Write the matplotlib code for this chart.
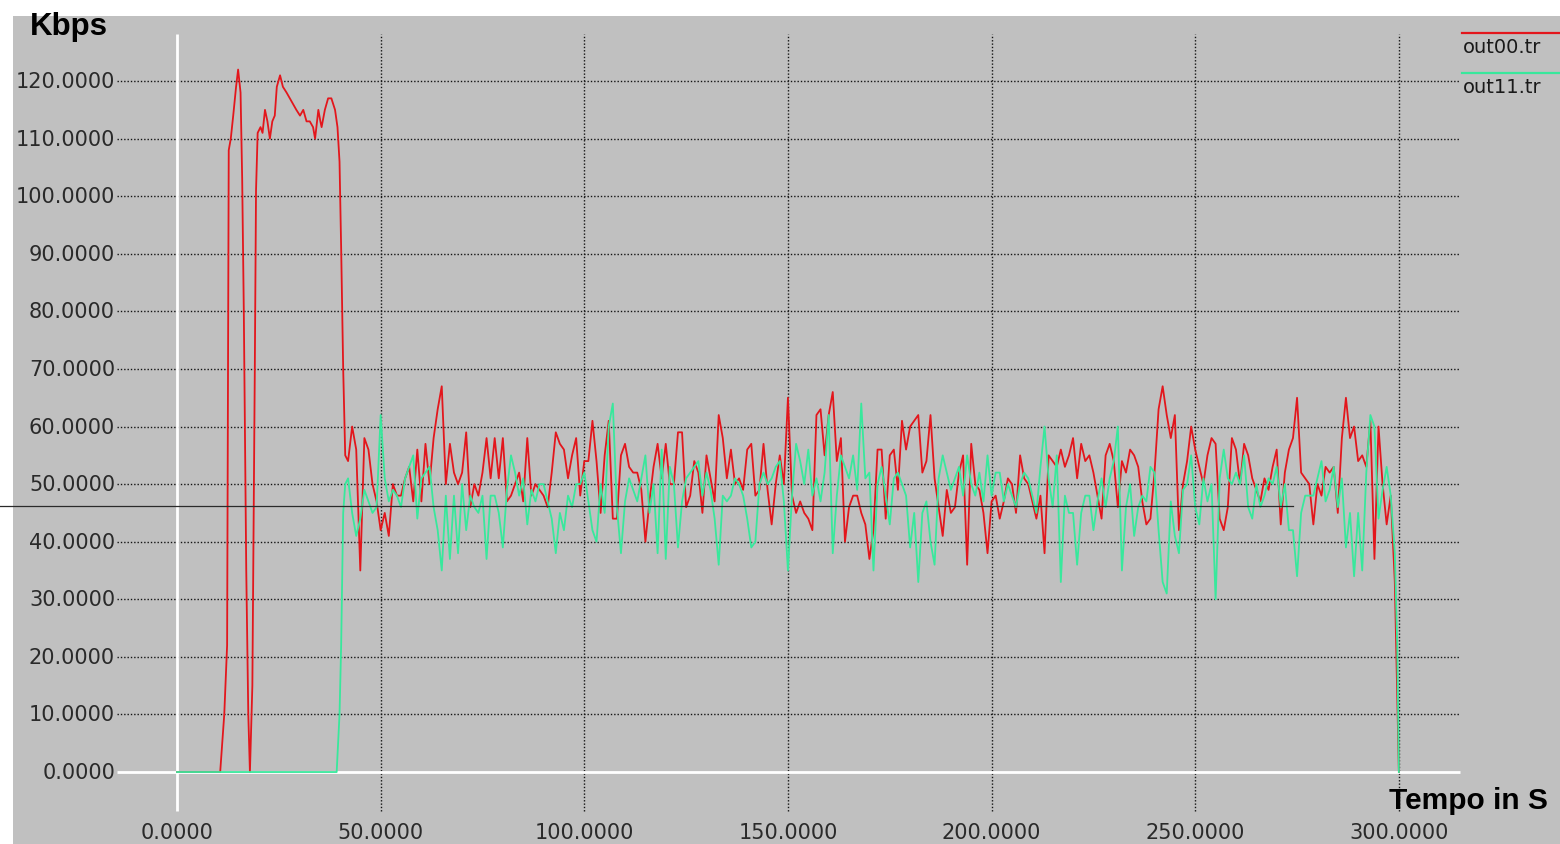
"""
Ricostruzione del grafico xgraph: throughput (Kbps) di out00.tr e out11.tr nel tempo.

Genera:
    out.png
"""

import numpy as np
from matplotlib import pyplot as plt
from matplotlib import font_manager

# ---- dati -------------------------------------------------------------------
# tratto iniziale di out00.tr (campionamento irregolare)
RED_T_START = [0, 10.6, 11.6, 12.3, 12.7, 13.2, 13.8, 14.5, 15.0, 15.6, 16.0, 16.4,
               17.0, 17.5, 17.9, 18.5, 19.1, 19.4, 19.8, 20.5, 21.0, 21.6, 22.2, 22.8,
               23.4, 24.0, 24.5, 25.3, 26.0, 26.9, 27.7, 28.5, 29.3, 30.2, 31.0, 31.8,
               32.6, 33.4, 33.9, 34.7, 35.2, 35.5, 36.3, 37.1, 37.9, 38.8, 39.4, 39.9,
               40.3, 40.8, 41.3]
RED_V_START = [0, 0, 10, 22, 108, 110, 114, 119, 122, 118, 103, 80,
               35, 10, 0, 15, 70, 101, 111, 112, 111, 115, 113, 110,
               113, 114, 119, 121, 119, 118, 117, 116, 115, 114, 115, 113,
               113, 112, 110, 115, 113, 112, 115, 117, 117, 115, 112, 106,
               91, 70, 55]

# tratto iniziale di out11.tr
GREEN_T_START = [0, 39.2, 39.9, 40.3, 40.8, 41.3]
GREEN_V_START = [0, 0, 10, 22, 45, 50]

# valori ogni secondo da t = 42 a t = 299
RED_V = [
    54, 60, 56, 35, 58, 56, 50, 47, 42, 45, 41, 50, 48, 48, 51, 53, 47, 56, 47, 57,
    50, 58, 63, 67, 50, 57, 52, 50, 52, 59, 46, 50, 48, 52, 58, 51, 58, 51, 58, 47,
    48, 50, 52, 47, 58, 48, 50, 49, 48, 46, 52, 59, 57, 56, 51, 55, 58, 48, 54, 54,
    61, 54, 45, 55, 61, 44, 44, 55, 57, 53, 52, 52, 49, 40, 47, 53, 57, 51, 57, 50,
    50, 59, 59, 46, 48, 54, 52, 45, 55, 51, 47, 62, 58, 51, 56, 50, 51, 49, 56, 57,
    48, 49, 57, 49, 43, 50, 55, 50, 65, 48, 45, 47, 45, 44, 42, 62, 63, 55, 62, 66,
    54, 58, 40, 46, 48, 48, 45, 43, 37, 42, 56, 56, 44, 55, 56, 49, 61, 56, 60, 61,
    62, 52, 54, 62, 51, 46, 41, 49, 45, 46, 52, 55, 36, 57, 50, 49, 45, 38, 47, 48,
    44, 47, 51, 50, 45, 55, 51, 50, 47, 44, 48, 38, 55, 54, 53, 56, 53, 55, 58, 51,
    57, 54, 55, 52, 48, 44, 55, 57, 54, 46, 54, 52, 56, 55, 53, 47, 43, 44, 52, 63,
    67, 62, 58, 62, 42, 50, 54, 60, 56, 53, 50, 55, 58, 57, 44, 42, 46, 58, 56, 50,
    57, 55, 51, 49, 47, 51, 49, 53, 56, 43, 52, 56, 58, 65, 52, 51, 50, 43, 50, 48,
    53, 52, 53, 45, 58, 65, 58, 60, 54, 55, 53, 61, 37, 60, 50, 43, 48, 33,
]
GREEN_V = [
    51, 45, 41, 44, 49, 47, 45, 46, 62, 51, 47, 49, 48, 46, 51, 53, 55, 44, 51, 52,
    53, 46, 42, 35, 48, 37, 48, 38, 50, 42, 48, 46, 45, 48, 37, 48, 48, 45, 39, 49,
    55, 52, 48, 51, 43, 49, 47, 50, 50, 47, 44, 38, 45, 42, 48, 46, 50, 50, 52, 47,
    42, 40, 50, 45, 60, 64, 46, 38, 47, 51, 49, 47, 51, 55, 45, 50, 38, 56, 37, 53,
    50, 39, 47, 51, 52, 53, 54, 48, 52, 49, 44, 36, 48, 47, 48, 51, 50, 48, 44, 39,
    40, 50, 52, 50, 51, 53, 54, 47, 35, 48, 57, 54, 50, 56, 48, 51, 47, 52, 62, 38,
    48, 55, 53, 51, 55, 49, 64, 51, 52, 35, 50, 53, 48, 43, 51, 52, 50, 48, 39, 45,
    33, 45, 47, 40, 36, 51, 55, 52, 49, 51, 53, 48, 55, 50, 48, 52, 47, 55, 48, 52,
    52, 47, 50, 48, 46, 50, 52, 51, 48, 45, 53, 60, 51, 46, 55, 33, 48, 45, 45, 36,
    45, 48, 48, 42, 47, 51, 46, 51, 54, 60, 35, 46, 50, 41, 46, 48, 47, 53, 52, 42,
    33, 31, 47, 41, 38, 49, 50, 55, 46, 43, 51, 47, 50, 30, 51, 56, 51, 50, 52, 50,
    55, 46, 44, 50, 46, 48, 51, 50, 53, 46, 50, 42, 42, 34, 45, 48, 48, 48, 51, 54,
    47, 49, 53, 46, 51, 39, 45, 34, 45, 35, 52, 62, 60, 44, 49, 53, 48, 38,
]
T_START, T_END = 42, 299

# discesa finale a zero
RED_T_END = [300]
RED_V_END = [0]
GREEN_T_END = [299.6, 300]
GREEN_V_END = [22, 0]

Y_TICKS = [0, 10, 20, 30, 40, 50, 60, 70, 80, 90, 100, 110, 120]
X_TICKS = [0, 50, 100, 150, 200, 250, 300]
SERIES_NAMES = ["out00.tr", "out11.tr"]
MARKER_LEVEL = 46.2      # linea orizzontale nera
MARKER_END = 274.0

BG = "#c0c0c0"
RED = "#e3161c"
GREEN = "#38e89c"

_names = {f.name for f in font_manager.fontManager.ttflist}
NARROW = "Liberation Sans Narrow" if "Liberation Sans Narrow" in _names else "DejaVu Sans"
NARROW_SIZE = 19 if NARROW != "DejaVu Sans" else 15
BOLD = "Liberation Sans" if "Liberation Sans" in _names else "DejaVu Sans"


def main() -> None:
    fig = plt.figure(figsize=(15.6, 8.45), dpi=100)
    fig.patch.set_facecolor("white")
    ax = fig.add_axes([13 / 1560, 0, 1547 / 1560, 828 / 845])
    ax.set_facecolor(BG)
    ax.set_xlim(-40.27, 339.56)
    ax.set_ylim(-12.5, 131.3)
    for s in ax.spines.values():
        s.set_visible(False)
    ax.set_xticks([])
    ax.set_yticks([])

    gx0, gx1 = -14.7, 314.9
    gy0, gy1 = -6.8, 128.2
    dots = (0, (1, 1.4))
    ax.hlines(Y_TICKS[1:], gx0, gx1, colors="#141414", linestyles=dots, lw=1.0, zorder=1)
    ax.vlines(X_TICKS[1:], gy0, gy1, colors="#141414", linestyles=dots, lw=1.0, zorder=1)
    ax.hlines([0], gx0, gx1, colors="white", lw=2.0, zorder=1.5)
    ax.vlines([0], gy0, gy1, colors="white", lw=2.0, zorder=1.5)

    for v in Y_TICKS:
        ax.text(-15.2, v, f"{v:.4f}", ha="right", va="center", fontsize=NARROW_SIZE,
                family=NARROW, color="#2a2a2a")
    for v in X_TICKS:
        ax.text(v, -10.4, f"{v:.4f}", ha="center", va="center", fontsize=NARROW_SIZE,
                family=NARROW, color="#2a2a2a")

    t_mid = np.arange(T_START, T_END + 1)
    red_t = np.concatenate([RED_T_START, t_mid, RED_T_END])
    red_v = np.concatenate([RED_V_START, RED_V, RED_V_END])
    green_t = np.concatenate([GREEN_T_START, t_mid, GREEN_T_END])
    green_v = np.concatenate([GREEN_V_START, GREEN_V, GREEN_V_END])

    ax.plot(red_t, red_v, color=RED, lw=1.3, zorder=2)
    ax.plot(green_t, green_v, color=GREEN, lw=1.3, zorder=3)

    ax.plot([-43.5, MARKER_END], [MARKER_LEVEL, MARKER_LEVEL], color="#2a2a2a",
            lw=0.9, zorder=4, clip_on=False)

    # legenda in stile xgraph
    for name, color, ly, ty in zip(SERIES_NAMES, [RED, GREEN], [128.3, 121.4], [126.0, 119.0]):
        ax.plot([315.5, 339.6], [ly, ly], color=color, lw=1.6, clip_on=False)
        ax.text(315.7, ty, name, ha="left", va="center", fontsize=NARROW_SIZE - 1,
                family=NARROW, color="#1a1a1a")

    ax.text(-36.1, 129.6, "Kbps", ha="left", va="center", fontsize=22.5,
            fontweight="bold", family=BOLD, color="black", clip_on=False)
    ax.text(297.5, -4.9, "Tempo in S", ha="left", va="center", fontsize=21.5,
            fontweight="bold", family=BOLD, color="black", clip_on=False)

    fig.savefig("out.png", dpi=100, facecolor=fig.get_facecolor())
    plt.close(fig)


if __name__ == "__main__":
    main()
